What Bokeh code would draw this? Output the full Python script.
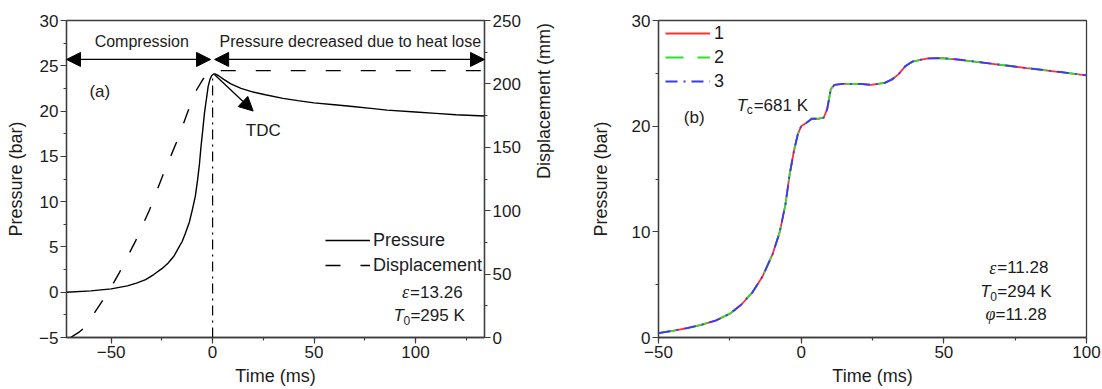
import math
from bokeh.plotting import figure
from bokeh.models import (Range1d, LinearAxis, SingleIntervalTicker, Label, Arrow,
                          NormalHead, Legend, LegendItem)
from bokeh.layouts import row
from bokeh.embed import file_html
from bokeh.resources import INLINE

# ---------------- data: panel (a) ----------------
time_a = [-72, -60, -50, -42, -37.5, -33, -29, -25, -22, -19,
          -16.8, -15, -13.4, -11.5, -10, -8.5, -7.4, -6.5, -5.7, -4.8,
          -4, -3, -2.2, -1.3, -0.5, 0.5, 1.2, 3, 5.5, 9,
          14, 20, 26, 34.7, 42, 50, 60, 69, 78, 86,
          100, 110, 120, 134]
pressure_a = [0.0, 0.15, 0.37, 0.7, 1.0, 1.4, 1.95, 2.6, 3.2, 4.0,
              4.9, 5.6, 6.5, 7.7, 9.1, 10.6, 12.4, 14.1, 16.1, 18.0,
              19.8, 21.4, 22.7, 23.5, 23.9, 24.1, 24.1, 23.9, 23.5, 23.0,
              22.5, 22.1, 21.8, 21.4, 21.15, 20.9, 20.7, 20.5, 20.3, 20.1,
              19.9, 19.75, 19.6, 19.45]
time_disp = [-70, -66, -63, -58, -51, -46, -38, -31, -24, -17, -12, -8, -5, -3, -1.5, 0, 134]
displacement = [0, 4, 8, 20, 37, 51, 76, 101, 130, 157, 179, 195, 203, 208, 210, 210.5, 210.5]
TDC_TIME = 0
TDC_LINE_TOP = 23.8
X_RANGE_A = (-72, 134)
Y_RANGE_A = (-5, 30)
DISP_RANGE = (0, 250)

# ---------------- data: panel (b) ----------------
time_b = [-50, -45, -40, -35, -30, -25, -21, -17, -13.5, -10,
          -7.5, -5.5, -4, -2.5, -1.2, 0, 1.8, 3.7, 6, 7.9,
          9.1, 10.4, 11.6, 14.6, 20.7, 24.4, 29.3, 31.7, 34.1, 36.6,
          39, 43.9, 48.8, 55, 67, 79, 91.5, 100]
run1 = [0.41, 0.63, 0.89, 1.2, 1.6, 2.25, 3.1, 4.3, 5.8, 7.9,
        10.0, 12.6, 15.5, 17.7, 19.2, 20.0, 20.3, 20.7, 20.7, 20.8,
        21.6, 23.5, 23.9, 24.0, 24.0, 23.9, 24.1, 24.4, 24.9, 25.7,
        26.1, 26.4, 26.45, 26.3, 25.9, 25.5, 25.1, 24.8]
run2 = [0.42, 0.63, 0.90, 1.2, 1.61, 2.26, 3.1, 4.32, 5.82, 7.92,
        10.02, 12.6, 15.5, 17.72, 19.2, 20.02, 20.3, 20.68, 20.72, 20.8,
        21.62, 23.5, 23.92, 24.0, 24.01, 23.9, 24.1, 24.42, 24.9, 25.72,
        26.1, 26.4, 26.44, 26.3, 25.9, 25.52, 25.1, 24.82]
run3 = [0.41, 0.64, 0.89, 1.21, 1.6, 2.24, 3.11, 4.3, 5.79, 7.9,
        9.98, 12.62, 15.48, 17.7, 19.21, 20.0, 20.31, 20.7, 20.7, 20.81,
        21.58, 23.51, 23.9, 24.01, 24.0, 23.91, 24.1, 24.4, 24.91, 25.7,
        26.11, 26.41, 26.45, 26.31, 25.9, 25.5, 25.11, 24.8]
X_RANGE_B = (-50, 100)
Y_RANGE_B = (0, 30)

FONT = "Liberation Sans"
SERIF = "Liberation Serif"
INK = "#1c1c1c"
AXIS = "#3c3c3c"


def style_axis(ax, interval, label_size="17px"):
    ax.ticker = SingleIntervalTicker(interval=interval, num_minor_ticks=2)
    ax.axis_line_color = AXIS
    ax.axis_line_width = 1.3
    ax.major_tick_line_color = AXIS
    ax.minor_tick_line_color = AXIS
    ax.major_tick_line_width = 1.2
    ax.minor_tick_line_width = 1.2
    ax.major_tick_out = 6
    ax.major_tick_in = 0
    ax.minor_tick_out = 3
    ax.minor_tick_in = 0
    ax.major_label_text_font = FONT
    ax.major_label_text_font_size = label_size
    ax.major_label_text_color = INK
    ax.major_label_standoff = 2
    ax.axis_label_text_font = FONT
    ax.axis_label_text_font_size = "18px"
    ax.axis_label_text_font_style = "normal"
    ax.axis_label_text_color = INK


def base_fig(width, xr, yr, left, right):
    p = figure(width=width, height=389, x_range=Range1d(*xr), y_range=Range1d(*yr),
               output_backend="svg", toolbar_location=None,
               min_border_left=left, min_border_right=right,
               min_border_top=20, min_border_bottom=52)
    p.xgrid.grid_line_color = None
    p.ygrid.grid_line_color = None
    p.outline_line_color = AXIS
    p.outline_line_width = 1.3
    p.background_fill_color = "white"
    p.border_fill_color = "white"
    return p


def text(p, x, y, s, size="17px", align="left", font=FONT, style="normal", dx=0, dy=0):
    p.add_layout(Label(x=x, y=y, text=s, text_font=font, text_font_size=size,
                       text_font_style=style, text_color=INK, text_align=align,
                       text_baseline="middle", x_offset=dx, y_offset=dy))


# ---------------- panel (a) ----------------
p1 = base_fig(566, X_RANGE_A, Y_RANGE_A, 66, 73)
p1.extra_y_ranges = {"disp": Range1d(*DISP_RANGE)}
style_axis(p1.xaxis[0], 50)
style_axis(p1.yaxis[0], 5)
p1.xaxis[0].axis_label = "Time (ms)"
p1.yaxis[0].axis_label = "Pressure (bar)"
p1.xaxis[0].major_label_overrides = {-50: "\u221250"}
p1.yaxis[0].major_label_overrides = {-5: "\u22125"}
p1.yaxis[0].axis_label_standoff = 10
p1.xaxis[0].axis_label_standoff = 5

ax_r = LinearAxis(y_range_name="disp", axis_label="Displacement (mm)")
style_axis(ax_r, 50)
ax_r.axis_label_standoff = 20
ax_r.axis_label_orientation = math.pi / 2
p1.add_layout(ax_r, "right")

r_p = p1.line(time_a, pressure_a, line_color="black", line_width=1.4)
r_d = p1.line(time_disp, displacement, y_range_name="disp", line_color="black",
              line_width=1.4, line_dash="15 20")
p1.segment(x0=[TDC_TIME], y0=[Y_RANGE_A[0]], x1=[TDC_TIME], y1=[TDC_LINE_TOP],
           line_color="black", line_width=1.2, line_dash="10 5 2 5")

ARROW_Y = 25.7
for xs, xe in [(-1.0, X_RANGE_A[0]), (1.0, X_RANGE_A[1])]:
    p1.add_layout(Arrow(x_start=xs, y_start=ARROW_Y, x_end=xe, y_end=ARROW_Y,
                        line_color="black", line_width=1.3,
                        start=NormalHead(size=14, fill_color="black", line_color="black"),
                        end=NormalHead(size=14, fill_color="black", line_color="black")))
p1.add_layout(Arrow(x_start=1.0, y_start=24.0, x_end=20.0, y_end=20.0,
                    line_color="black", line_width=1.3,
                    end=NormalHead(size=14, fill_color="black", line_color="black")))

text(p1, -34.9, 27.7, "Compression", size="16px", align="center")
text(p1, 67.9, 27.7, "Pressure decreased due to heat lose", size="16px", align="center")
text(p1, -55.6, 22.2, "(a)", align="center")
text(p1, 25, 17.9, "TDC", align="center")
text(p1, 93.4, 0.0, "\u03b5", size="18px", font=SERIF, style="italic")
text(p1, 93.4, 0.0, "=13.26", dx=8)
text(p1, 89.1, -2.6, "T", style="italic")
text(p1, 89.1, -2.6, "0", size="12px", dx=10, dy=-5)
text(p1, 89.1, -2.6, "=295 K", dx=17)

leg1 = Legend(items=[LegendItem(label="Pressure", renderers=[r_p]),
                     LegendItem(label="Displacement", renderers=[r_d])],
              location=(259, 60), glyph_width=45, glyph_height=24, label_height=24,
              spacing=1, padding=0, margin=0, label_standoff=3,
              label_text_font=FONT, label_text_font_size="18px", label_text_color=INK,
              background_fill_alpha=0, border_line_alpha=0)
p1.add_layout(leg1)

# ---------------- panel (b) ----------------
p2 = base_fig(536, X_RANGE_B, Y_RANGE_B, 92, 16)
style_axis(p2.xaxis[0], 50)
style_axis(p2.yaxis[0], 10)
p2.xaxis[0].axis_label = "Time (ms)"
p2.yaxis[0].axis_label = "Pressure (bar)"
p2.xaxis[0].major_label_overrides = {-50: "\u221250"}
p2.yaxis[0].axis_label_standoff = 18
p2.xaxis[0].axis_label_standoff = 5

r1 = p2.line(time_b, run1, line_color="#ff3030", line_width=1.8)
r2 = p2.line(time_b, run2, line_color="#30e030", line_width=1.8, line_dash="18 14")
r3 = p2.line(time_b, run3, line_color="#3838ff", line_width=1.8, line_dash="12 6 2 6")

text(p2, -37.5, 20.8, "(b)", align="center")
text(p2, -22.6, 22.0, "T", style="italic")
text(p2, -22.6, 22.0, "c", size="12px", dx=10, dy=-5)
text(p2, -22.6, 22.0, "=681 K", dx=17)
text(p2, 65.9, 6.6, "\u03b5", size="18px", font=SERIF, style="italic")
text(p2, 65.9, 6.6, "=11.28", dx=8)
text(p2, 62.8, 4.4, "T", style="italic")
text(p2, 62.8, 4.4, "0", size="12px", dx=10, dy=-5)
text(p2, 62.8, 4.4, "=294 K", dx=17)
text(p2, 64.6, 2.2, "\u03c6", size="18px", font=SERIF, style="italic")
text(p2, 64.6, 2.2, "=11.28", dx=10)

leg2 = Legend(items=[LegendItem(label="1", renderers=[r1]),
                     LegendItem(label="2", renderers=[r2]),
                     LegendItem(label="3", renderers=[r3])],
              location=(7, 244), glyph_width=45, glyph_height=24, label_height=24,
              spacing=0, padding=0, margin=0, label_standoff=4,
              label_text_font=FONT, label_text_font_size="18px", label_text_color=INK,
              background_fill_alpha=0, border_line_alpha=0)
p2.add_layout(leg2)

layout = row(p1, p2)
open("out.html", "w").write(file_html(layout, INLINE))
